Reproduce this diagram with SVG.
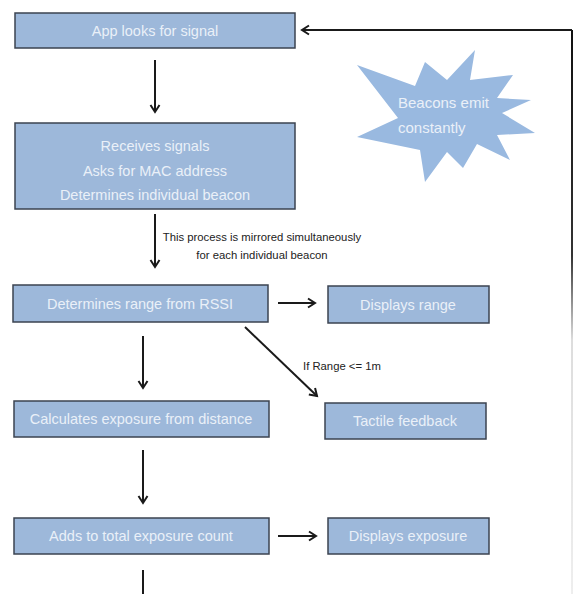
<svg xmlns="http://www.w3.org/2000/svg" width="574" height="594" viewBox="0 0 574 594">
<style>
.box{fill:#9db8da;stroke:#3b4350;stroke-width:1.5}
.t{font-family:"Liberation Sans",Arial,sans-serif;font-size:14.5px;fill:#eaf0f8;text-anchor:middle}
.lbl{font-family:"Liberation Sans",Arial,sans-serif;font-size:11.3px;fill:#222}
.c{stroke:#1a1a1a;stroke-width:2;fill:none}
</style>
<defs>
<marker id="ah" markerWidth="12" markerHeight="12" refX="9" refY="6" orient="auto" markerUnits="userSpaceOnUse">
<path d="M2,1.5 L9,6 L2,10.5" fill="none" stroke="#1a1a1a" stroke-width="2"/>
</marker>
<linearGradient id="fade" gradientUnits="userSpaceOnUse" x1="0" y1="30" x2="0" y2="594">
<stop offset="0" stop-color="#111"/>
<stop offset="0.4" stop-color="#333"/>
<stop offset="0.55" stop-color="#ddd"/>
<stop offset="1" stop-color="#eee"/>
</linearGradient>
</defs>
<rect width="574" height="594" fill="#fff"/>
<g id="connectors">
<line class="c" x1="155" y1="60" x2="155" y2="112" marker-end="url(#ah)"/>
<line class="c" x1="155" y1="214" x2="155" y2="267" marker-end="url(#ah)"/>
<line class="c" x1="278" y1="303" x2="315" y2="303" marker-end="url(#ah)"/>
<line class="c" x1="245" y1="327" x2="317" y2="396" marker-end="url(#ah)"/>
<line class="c" x1="143" y1="336" x2="143" y2="388" marker-end="url(#ah)"/>
<line class="c" x1="143" y1="450" x2="143" y2="503" marker-end="url(#ah)"/>
<line class="c" x1="278" y1="536" x2="316" y2="536" marker-end="url(#ah)"/>
<line class="c" x1="143" y1="570" x2="143" y2="594"/>
<line x1="572" y1="30" x2="572" y2="594" stroke="url(#fade)" stroke-width="2"/>
<line class="c" x1="572" y1="30" x2="302" y2="30" marker-end="url(#ah)"/>
<text class="lbl" x="262" y="241" text-anchor="middle">This process is mirrored simultaneously</text>
<text class="lbl" x="262" y="259" text-anchor="middle">for each individual beacon</text>
<text class="lbl" x="303" y="370">If Range &lt;= 1m</text>
</g>
<g id="n1">
<rect class="box" x="15" y="13" width="280" height="35"/>
<text class="t" x="155" y="36">App looks for signal</text>
</g>
<g id="n2">
<rect class="box" x="15" y="123" width="280" height="86"/>
<text class="t" x="155" y="151">Receives signals</text>
<text class="t" x="155" y="176">Asks for MAC address</text>
<text class="t" x="155" y="200">Determines individual beacon</text>
</g>
<g id="star">
<polygon points="475,50 470,80 513,75 497,98 531,100 502,113 535,133 497,135 510,160 477,144 463,168 447,152 425,182 420,150 357,137 398,118 357,65 415,86 425,62 447,80" fill="#99b9e0"/>
<text x="398" y="108" font-family="'Liberation Sans',Arial,sans-serif" font-size="15" fill="#eaf0f8">Beacons emit</text>
<text x="398" y="133" font-family="'Liberation Sans',Arial,sans-serif" font-size="15" fill="#eaf0f8">constantly</text>
</g>
<g id="n3">
<rect class="box" x="13" y="285" width="255" height="37"/>
<text class="t" x="140" y="309">Determines range from RSSI</text>
</g>
<g id="n4">
<rect class="box" x="328" y="286" width="161" height="37"/>
<text class="t" x="408" y="310">Displays range</text>
</g>
<g id="n5">
<rect class="box" x="14" y="401" width="255" height="36"/>
<text class="t" x="141" y="424">Calculates exposure from distance</text>
</g>
<g id="n6">
<rect class="box" x="325" y="403" width="161" height="36"/>
<text class="t" x="405" y="426">Tactile feedback</text>
</g>
<g id="n7">
<rect class="box" x="14" y="518" width="255" height="36"/>
<text class="t" x="141" y="541">Adds to total exposure count</text>
</g>
<g id="n8">
<rect class="box" x="328" y="518" width="161" height="36"/>
<text class="t" x="408" y="541">Displays exposure</text>
</g>
</svg>
